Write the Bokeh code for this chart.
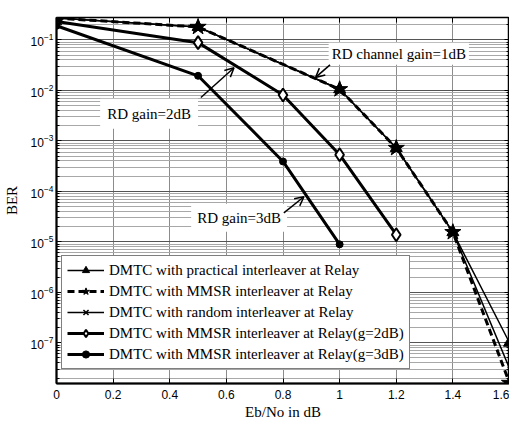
from bokeh.plotting import figure
from bokeh.models import (Range1d, LogAxis, LinearAxis, FixedTicker, Label, Arrow,
                          OpenHead, CustomJSTickFormatter)
from bokeh.embed import file_html
from bokeh.resources import INLINE

# ---- data ----
snr_top = [0.0, 0.5, 1.0, 1.2, 1.4, 1.6]
ber_practical = [0.27, 0.18, 0.0105, 7.2e-4, 1.55e-5, 1.0e-7]
ber_mmsr = [0.27, 0.18, 0.0105, 7.2e-4, 1.55e-5, 1.6e-8]
ber_random = [0.27, 0.18, 0.0105, 7.2e-4, 1.55e-5, 3.1e-8]

snr_g2 = [0.0, 0.5, 0.8, 1.0, 1.2]
ber_g2 = [0.23, 0.088, 0.0081, 5.3e-4, 1.38e-5]

snr_g3 = [0.0, 0.5, 0.8, 1.0]
ber_g3 = [0.19, 0.0194, 3.9e-4, 8.9e-6]

x_ticks = [0.0, 0.2, 0.4, 0.6, 0.8, 1.0, 1.2, 1.4, 1.6]
x_tick_labels = ["0", "0.2", "0.4", "0.6", "0.8", "1", "1.2", "1.4", "1.6"]
y_ticks = [1e-7, 1e-6, 1e-5, 1e-4, 1e-3, 1e-2, 1e-1]
y_minor_mult = [2, 3, 4, 5, 6, 7, 8, 9]
y_minor = [m * t for t in [1e-8] + y_ticks for m in y_minor_mult]

labels = ["DMTC with practical interleaver at Relay",
          "DMTC with MMSR interleaver at Relay",
          "DMTC with random interleaver at Relay",
          "DMTC with MMSR interleaver at Relay(g=2dB)",
          "DMTC with MMSR interleaver at Relay(g=3dB)"]

SERIF = "Liberation Serif"
SANS = "Liberation Sans"

p = figure(frame_width=453, frame_height=366, x_range=Range1d(0, 1.6),
           y_range=Range1d(1.56e-8, 0.277), y_axis_type="log",
           output_backend="svg", toolbar_location=None,
           min_border_left=49, min_border_right=0, min_border_top=17,
           min_border_bottom=0,
           x_axis_label="Eb/No in dB", y_axis_label="BER")
p.background_fill_color = "white"
p.border_fill_color = "white"
p.outline_line_color = "black"
p.outline_line_width = 1.5

xt = FixedTicker(ticks=x_ticks)
yt = FixedTicker(ticks=y_ticks, minor_ticks=y_minor)

for ax in p.xaxis:
    ax.ticker = xt
    ax.major_label_overrides = {t: s for t, s in zip(x_ticks, x_tick_labels)}
for ax in p.yaxis:
    ax.ticker = yt

for ax in list(p.xaxis) + list(p.yaxis):
    ax.axis_line_width = 2
    ax.axis_line_color = "black"
    ax.major_tick_in = 5
    ax.major_tick_out = 0
    ax.major_tick_line_color = "black"
    ax.minor_tick_in = 3
    ax.minor_tick_out = 0
    ax.major_label_text_font = SANS
    ax.major_label_text_font_size = "12px"
    ax.major_label_text_color = "black"
    ax.axis_label_text_font = SERIF
    ax.axis_label_text_font_size = "15px"
    ax.axis_label_text_font_style = "normal"
    ax.axis_label_text_color = "black"
for ax in p.xaxis:
    ax.minor_tick_line_color = None
    ax.major_label_standoff = 6
    ax.axis_label_standoff = 2
for ax in p.yaxis:
    ax.major_label_standoff = 3
    ax.axis_label_standoff = 8

blank = CustomJSTickFormatter(code="return ''")
right = LogAxis(ticker=yt, formatter=blank, axis_line_color=None,
                major_tick_in=5, major_tick_out=0, minor_tick_in=3, minor_tick_out=0,
                major_label_standoff=0, major_label_text_font_size="0px")
top = LinearAxis(ticker=xt, formatter=blank, axis_line_color=None,
                 major_tick_in=5, major_tick_out=0, minor_tick_line_color=None,
                 major_label_standoff=0, major_label_text_font_size="0px")
p.add_layout(right, "right")
p.add_layout(top, "above")

p.xgrid.ticker = xt
p.ygrid.ticker = yt
p.xgrid.grid_line_color = "#8c8c8c"
p.xgrid.grid_line_width = 1
p.ygrid.grid_line_color = "#555555"
p.ygrid.grid_line_width = 1
p.ygrid.minor_grid_line_color = "#a8a8a8"
p.ygrid.minor_grid_line_width = 1

# ---- series ----
p.line(snr_top, ber_practical, line_color="black", line_width=1.5, legend_label=labels[0])
p.scatter(snr_top, ber_practical, marker="triangle", size=12, fill_color="black",
          line_color="black", legend_label=labels[0])

p.line(snr_top, ber_random, line_color="black", line_width=1.5, legend_label=labels[2])
p.scatter(snr_top, ber_random, marker="x", size=5, line_color="black", line_width=1.5,
          legend_label=labels[2])

p.line(snr_g2, ber_g2, line_color="black", line_width=3, legend_label=labels[3])
p.scatter(snr_g2, ber_g2, marker="diamond", size=13, fill_color="white",
          line_color="black", line_width=2, legend_label=labels[3])

p.line(snr_g3, ber_g3, line_color="black", line_width=3, legend_label=labels[4])
p.scatter(snr_g3, ber_g3, marker="circle", size=7, fill_color="black",
          line_color="black", legend_label=labels[4])

p.line(snr_top, ber_mmsr, line_color="black", line_width=3, line_dash="7 4",
       legend_label=labels[1])
p.scatter(snr_top, ber_mmsr, marker="star", size=17, fill_color="black",
          line_color="black", legend_label=labels[1])

# legend order like reference
lg = p.legend[0]
order = {lab: i for i, lab in enumerate(labels)}
lg.items = sorted(lg.items, key=lambda it: order[it.label.value])
lg.location = (5, 14)
lg.label_text_font = SERIF
lg.label_text_font_size = "15px"
lg.label_text_color = "black"
lg.glyph_width = 37
lg.glyph_height = 18
lg.label_height = 18
lg.spacing = 3
lg.padding = 5
lg.margin = 0
lg.label_standoff = 5
lg.border_line_color = "black"
lg.border_line_width = 1.5
lg.background_fill_color = "white"
lg.background_fill_alpha = 1.0

# ---- annotations ----
def lab(x, y, text, pad):
    p.add_layout(Label(x=x, y=y, text=text, text_font=SERIF, text_font_size="15px",
                       text_align="center", text_baseline="middle", text_color="black",
                       background_fill_color="white", background_fill_alpha=1.0,
                       padding=pad))

lab(1.209, 0.0528, "RD channel gain=1dB", 3)
lab(0.327, 0.00343, "RD gain=2dB", 7)
lab(0.645, 2.99e-5, "RD gain=3dB", 6)

def arr(x0, y0, x1, y1):
    p.add_layout(Arrow(end=OpenHead(size=9, line_width=1.5, line_color="black"),
                       x_start=x0, y_start=y0, x_end=x1, y_end=y1,
                       line_width=1.5, line_color="black"))

arr(0.966, 0.032, 0.915, 0.018)
arr(0.51, 0.0072, 0.627, 0.028)
arr(0.803, 3.75e-5, 0.874, 7.8e-5)

open("out.html", "w").write(file_html(p, INLINE))
